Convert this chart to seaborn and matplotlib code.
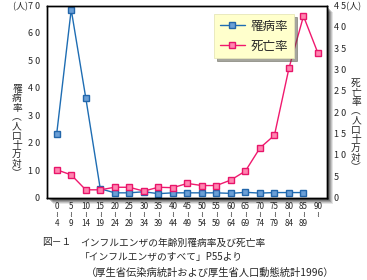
import numpy as np
import pandas as pd
import matplotlib
matplotlib.use("Agg")
import matplotlib.pyplot as plt
from matplotlib.patches import Rectangle
import seaborn as sns

# ---- data ----
age_groups = ["0-4", "5-9", "10-14", "15-19", "20-24", "25-29", "30-34", "35-39",
              "40-44", "45-49", "50-54", "55-59", "60-64", "65-69", "70-74",
              "75-79", "80-84", "85-89", "90-"]
x_labels = ["0\n≀\n4", "5\n≀\n9", "10\n≀\n14", "15\n≀\n19", "20\n≀\n24", "25\n≀\n29",
            "30\n≀\n34", "35\n≀\n39", "40\n≀\n44", "45\n≀\n49", "50\n≀\n54", "55\n≀\n59",
            "60\n≀\n64", "65\n≀\n69", "70\n≀\n74", "75\n≀\n79", "80\n≀\n84", "85\n≀\n89",
            "90\n≀\n "]
morbidity = [23.2, 68.5, 36.4, 3.2, 1.7, 1.7, 2.1, 1.4, 1.7, 1.7, 1.7, 1.7,
             1.5, 1.9, 1.6, 1.8, 1.8, 1.8, np.nan]
mortality = [6.5, 5.3, 1.8, 1.8, 2.4, 2.4, 1.5, 2.4, 2.3, 3.3, 2.8, 2.8,
             4.1, 6.2, 11.6, 14.6, 30.3, 42.5, 33.8]
left_ticks = [0, 10, 20, 30, 40, 50, 60, 70]
left_ticklabels = ["0", "1 0", "2 0", "3 0", "4 0", "5 0", "6 0", "(人)7 0"]
right_ticks = [0, 5, 10, 15, 20, 25, 30, 35, 40, 45]
right_ticklabels = ["0", "5", "1 0", "1 5", "2 0", "2 5", "3 0", "3 5", "4 0", "4 5(人)"]
series_names = ["罹病率", "死亡率"]

df = pd.DataFrame({"pos": np.arange(len(age_groups)), "age": age_groups,
                   "morbidity": morbidity, "mortality": mortality})

sns.set_style("white")
plt.rcParams["font.family"] = ["Noto Sans CJK JP", "DejaVu Sans"]

W, H = 367, 280
fig = plt.figure(figsize=(W / 100, H / 100), dpi=100)
fig.patch.set_facecolor("white")

ax_l, ax_r, ax_t, ax_b = 47, 327, 5.5, 197.5
ax = fig.add_axes([ax_l / W, 1 - ax_b / H, (ax_r - ax_l) / W, (ax_b - ax_t) / H])

# drop shadow behind axes
for i, a in enumerate([0.10, 0.14, 0.18, 0.22, 0.28]):
    off = 6 - i
    fig.patches.append(Rectangle(((ax_l + off) / W, 1 - (ax_b + off) / H),
                                 (ax_r - ax_l) / W, (ax_b - ax_t) / H,
                                 transform=fig.transFigure, facecolor="black",
                                 edgecolor="none", alpha=a, zorder=-5))
ax.set_zorder(2)
ax.patch.set_facecolor("white")
ax.patch.set_alpha(1)

blue = "#1E6DB3"
pink = "#F0196E"

sns.lineplot(data=df, x="pos", y="morbidity", ax=ax, color=blue, lw=1.0,
             marker="s", markersize=5, markerfacecolor="#6A9FD6",
             markeredgecolor="#2366AA", markeredgewidth=1.0, label=series_names[0],
             legend=False)
ax2 = ax.twinx()
sns.lineplot(data=df, x="pos", y="mortality", ax=ax2, color=pink, lw=1.0,
             marker="s", markersize=5, markerfacecolor="#FF85B0",
             markeredgecolor="#E8156A", markeredgewidth=1.0, label=series_names[1],
             legend=False)

ax.set_xlim(-0.668, 18.62)
ax.set_ylim(0, 70)
ax2.set_ylim(0, 45)
ax.set_xlabel("")
ax.set_ylabel("")
ax2.set_ylabel("")

ax.set_yticks(left_ticks)
ax.set_yticklabels(left_ticklabels, fontsize=6.5)
ax2.set_yticks(right_ticks)
ax2.set_yticklabels(right_ticklabels, fontsize=6.5)
ax.tick_params(axis="y", length=0, pad=5)
ax2.tick_params(axis="y", length=0, pad=5)

ax.set_xticks(df["pos"])
ax.set_xticklabels(x_labels, fontsize=5.8, linespacing=0.95)
ax.set_xticks(np.arange(len(age_groups)) + 0.5, minor=True)
ax.tick_params(axis="x", which="both", direction="out", length=2, width=0.6,
               pad=1, color="black")

for a in (ax, ax2):
    for s in a.spines.values():
        s.set_color("black")
        s.set_linewidth(1.0)

# legend
h1, l1 = ax.get_legend_handles_labels()
h2, l2 = ax2.get_legend_handles_labels()
leg = ax2.legend(h1 + h2, l1 + l2, loc="upper left",
                 bbox_to_anchor=((214 - ax_l) / (ax_r - ax_l), 1 - (14 - ax_t) / (ax_b - ax_t)),
                 frameon=True, fancybox=False, shadow=True, fontsize=9,
                 handlelength=2.0, handletextpad=0.5, borderpad=0.45,
                 labelspacing=0.55, borderaxespad=0)
leg.get_frame().set_facecolor("#FFFFCC")
leg.get_frame().set_edgecolor("#E6E6B8")
leg.get_frame().set_linewidth(0.6)
leg.set_zorder(10)

# vertical axis titles
vlabel_l = "罹\n病\n率\n︵\n人\n口\n十\n万\n対\n︶"
vlabel_r = "死\n亡\n率\n︵\n人\n口\n十\n万\n対\n︶"
fig.text(17 / W, 1 - 131 / H, vlabel_l, fontsize=7, ha="center", va="center",
         linespacing=0.92)
fig.text(356 / W, 1 - 125 / H, vlabel_r, fontsize=7, ha="center", va="center",
         linespacing=0.92)

# captions
fig.text(42 / W, 1 - 242.5 / H, "図－１", fontsize=7, ha="left", va="center")
fig.text(80 / W, 1 - 242.5 / H, "インフルエンザの年齢別罹病率及び死亡率", fontsize=7,
         ha="left", va="center")
fig.text(80 / W, 1 - 257 / H, "「インフルエンザのすべて」P55より", fontsize=7,
         ha="left", va="center")
fig.text(86 / W, 1 - 273 / H, "（厚生省伝染病統計および厚生省人口動態統計1996）",
         fontsize=7.4, ha="left", va="center")

fig.savefig("out.png", dpi=100, facecolor="white")
